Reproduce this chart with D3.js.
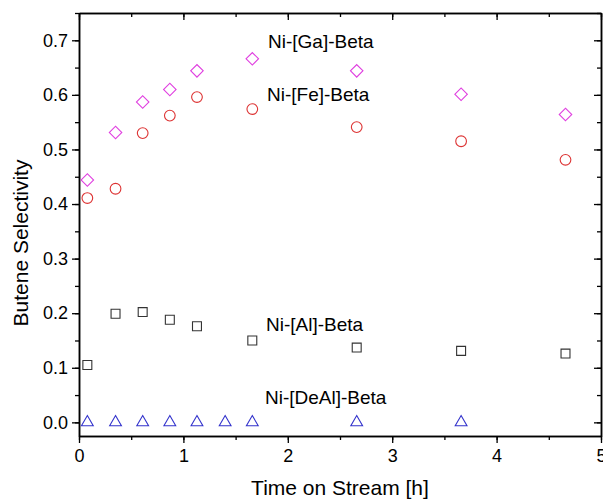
<!DOCTYPE html>
<html>
<head>
<meta charset="utf-8">
<script src="https://cdn.jsdelivr.net/npm/d3@7"></script>
<style>
  body { margin: 0; background: #fff; }
  text { font-family: Arial, "Liberation Sans", sans-serif; fill: #000; }
</style>
</head>
<body>
<div id="chart"></div>
<script>
// Time on stream [h]
const timeGa = [0.08, 0.35, 0.61, 0.87, 1.13, 1.66, 2.66, 3.66, 4.66];
const selGa = [0.444, 0.531, 0.587, 0.610, 0.644, 0.666, 0.644, 0.601, 0.564];

const timeFe = [0.08, 0.35, 0.61, 0.87, 1.13, 1.66, 2.66, 3.66, 4.66];
const selFe = [0.411, 0.428, 0.530, 0.562, 0.596, 0.574, 0.541, 0.515, 0.481];

const timeAl = [0.08, 0.35, 0.61, 0.87, 1.13, 1.66, 2.66, 3.66, 4.66];
const selAl = [0.105, 0.199, 0.202, 0.188, 0.176, 0.150, 0.137, 0.131, 0.126];

const timeDeAl = [0.08, 0.35, 0.61, 0.87, 1.13, 1.40, 1.66, 2.66, 3.66];
const selDeAl = [0, 0, 0, 0, 0, 0, 0, 0, 0];

const xTicks = [0, 1, 2, 3, 4, 5];
const yTicks = [0.0, 0.1, 0.2, 0.3, 0.4, 0.5, 0.6, 0.7];

// Set geometry
let margin = { top: 13, right: 2, bottom: 64, left: 79 },
    width = 603 - margin.left - margin.right,
    height = 500 - margin.top - margin.bottom;

let svg = d3.select("#chart")
    .append("svg")
    .attr("width", 603)
    .attr("height", 500)
    .append("g")
    .attr("transform", "translate(" + margin.left + "," + margin.top + ")");

let xScale = d3.scaleLinear().domain([0, 5]).range([0, width]);
let yScale = d3.scaleLinear().domain([-0.025, 0.75]).range([height, 0]);

const xMinor = d3.range(0, 5.01, 0.5);
const yMinor = d3.range(0, 0.751, 0.05);

function styleAxis(g) {
    g.select(".domain").attr("stroke", "#000").attr("stroke-width", 1.5);
    g.selectAll(".tick line").attr("stroke", "#000").attr("stroke-width", 1.3);
    g.selectAll(".tick text").attr("font-size", "18px").style("font-family", "Arial, 'Liberation Sans', sans-serif");
}

// minor ticks
svg.append("g").attr("transform", "translate(0," + height + ")")
    .call(d3.axisBottom(xScale).tickValues(xMinor).tickSize(4).tickFormat("").tickSizeOuter(0))
    .call(styleAxis);
svg.append("g")
    .call(d3.axisTop(xScale).tickValues(xMinor).tickSize(-4).tickFormat("").tickSizeOuter(0))
    .call(styleAxis);
svg.append("g")
    .call(d3.axisLeft(yScale).tickValues(yMinor).tickSize(4).tickFormat("").tickSizeOuter(0))
    .call(styleAxis);
svg.append("g").attr("transform", "translate(" + width + ",0)")
    .call(d3.axisRight(yScale).tickValues(yMinor).tickSize(-4).tickFormat("").tickSizeOuter(0))
    .call(styleAxis);

// major ticks
svg.append("g").attr("transform", "translate(0," + height + ")")
    .call(d3.axisBottom(xScale).tickValues(xTicks).tickSize(7).tickPadding(6).tickFormat(d3.format("d")).tickSizeOuter(0))
    .call(styleAxis);
svg.append("g")
    .call(d3.axisTop(xScale).tickValues(xTicks).tickSize(-7).tickFormat("").tickSizeOuter(0))
    .call(styleAxis);
svg.append("g")
    .call(d3.axisLeft(yScale).tickValues(yTicks).tickSize(7).tickPadding(4).tickFormat(d3.format(".1f")).tickSizeOuter(0))
    .call(styleAxis);
svg.append("g").attr("transform", "translate(" + width + ",0)")
    .call(d3.axisRight(yScale).tickValues(yTicks).tickSize(-7).tickFormat("").tickSizeOuter(0))
    .call(styleAxis);

// Axis titles
svg.append("text")
    .attr("text-anchor", "middle")
    .attr("x", 340 - margin.left)
    .attr("y", 495 - margin.top)
    .attr("font-size", "21px")
    .text("Time on Stream [h]");

svg.append("text")
    .attr("text-anchor", "middle")
    .attr("transform", "rotate(-90)")
    .attr("x", -(243 - margin.top))
    .attr("y", 28 - margin.left)
    .attr("font-size", "21px")
    .text("Butene Selectivity");

// Plot markers
function zip(xs, ys) {
    return xs.map(function (x, i) { return { x: x, y: ys[i] }; });
}

function plotSeries(xs, ys, symbol, size, color, rotate) {
    svg.append("g").selectAll("path")
        .data(zip(xs, ys))
        .enter()
        .append("path")
        .attr("d", d3.symbol().type(symbol).size(size))
        .attr("transform", function (d) {
            return "translate(" + xScale(d.x) + "," + yScale(d.y) + ")" + (rotate ? " rotate(" + rotate + ")" : "");
        })
        .attr("fill", "none")
        .attr("stroke", color)
        .attr("stroke-width", 1.1);
}

plotSeries(timeGa, selGa, d3.symbolSquare, 78, "#e040e0", 45);
plotSeries(timeFe, selFe, d3.symbolCircle, 90, "#dd3333", 0);
plotSeries(timeAl, selAl, d3.symbolSquare, 80, "#333333", 0);
plotSeries(timeDeAl, selDeAl, d3.symbolTriangle, 60, "#3333cc", 0);

// Series labels
const labels = [
    { text: "Ni-[Ga]-Beta", x: 268, y: 48 },
    { text: "Ni-[Fe]-Beta", x: 267, y: 101 },
    { text: "Ni-[Al]-Beta", x: 266, y: 331 },
    { text: "Ni-[DeAl]-Beta", x: 265, y: 404 }
];
svg.append("g").selectAll("text")
    .data(labels)
    .enter()
    .append("text")
    .attr("x", function (d) { return d.x - margin.left; })
    .attr("y", function (d) { return d.y - margin.top; })
    .attr("font-size", "19px")
    .text(function (d) { return d.text; });
</script>
</body>
</html>
